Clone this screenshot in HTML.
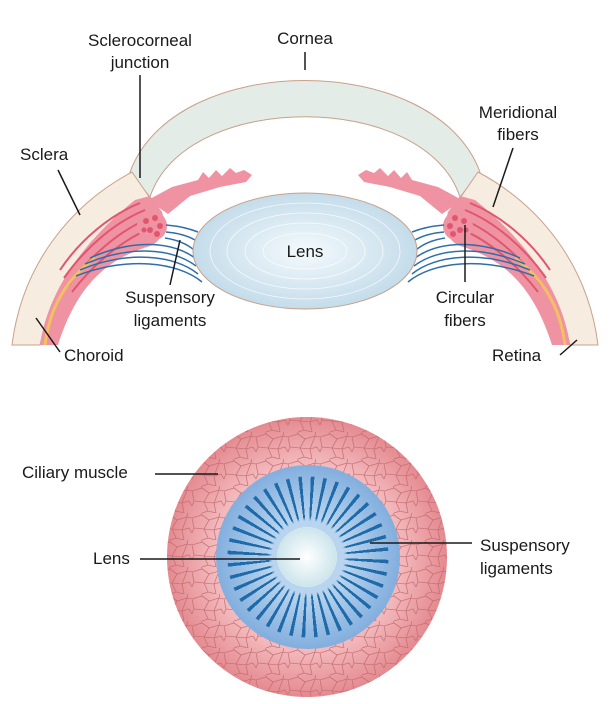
<!DOCTYPE html>
<html><head><meta charset="utf-8"><style>
body{margin:0;background:#fff}
#w{position:relative;width:611px;height:704px;overflow:hidden}
svg{display:block;position:absolute;left:0;top:0}
text{font-family:"Liberation Sans",sans-serif;font-size:17px;fill:#1a1a1a}
.c{position:absolute;border-radius:50%}
</style></head><body><div id="w">
<svg width="611" height="704" viewBox="0 0 611 704">
<defs>
<radialGradient id="lg" cx="0.5" cy="0.5" r="0.5"><stop offset="0" stop-color="#f4fafd"/><stop offset="1" stop-color="#c4dcea"/></radialGradient>
<radialGradient id="pg" cx="0.5" cy="0.5" r="0.5"><stop offset="0.6" stop-color="#f6c3c6"/><stop offset="1" stop-color="#e48a90"/></radialGradient>
<pattern id="cell" width="32" height="27" patternUnits="userSpaceOnUse">
<path d="M0,5 L10,2 L17,7 L27,4 L32,5 M10,2 L9,-2 M27,4 L28,-2 M0,5 L2,15 L0,20 M2,15 L12,16 L17,7 M12,16 L16,25 L10,27 M12,16 L22,17 L27,4 M22,17 L29,15 L32,20 M22,17 L24,27 M16,25 L24,27" fill="none" stroke="#c0676a" stroke-width="0.8"/>
</pattern>
<g id="half">
<path d="M12,345 C22,265 70,205 132,172 L150,198 C95,225 55,280 40,345 Z" fill="#f6ece0" stroke="#c9a08a" stroke-width="1"/>
<path d="M40,345 C48,290 85,240 135,200 L150,196 L162,212 C166,226 164,240 150,246 C110,258 78,282 58,345 Z" fill="#ef92a2"/>
<g stroke="#e0566f" stroke-width="2" fill="none">
<path d="M60,270 C80,240 110,215 140,203"/><path d="M64,278 C85,248 115,222 145,210"/><path d="M68,286 C90,256 120,230 150,218"/><path d="M72,292 C95,262 125,238 152,228"/>
</g>
<path d="M45,345 C50,305 68,278 95,258" stroke="#f2c064" stroke-width="3" fill="none"/>
<path d="M148,200 L172,187 L198,180 L203,172 L209,178 L216,170 L222,176 L230,168 L236,173 L244,170 L252,175 L246,182 L220,187 L190,196 L168,214 Z" fill="#ef92a2"/>
<circle cx="152" cy="226" r="15" fill="#ef92a2"/>
<g fill="#e0566f"><circle cx="146" cy="221" r="3"/><circle cx="155" cy="218" r="3"/><circle cx="160" cy="226" r="3"/><circle cx="150" cy="230" r="3"/><circle cx="157" cy="234" r="3"/><circle cx="144" cy="230" r="2.5"/></g>
<g stroke="#2f6ea8" stroke-width="1.5" fill="none">
<path d="M166,225 C178,226 188,228 198,232"/><path d="M166,232 C178,233 188,236 195,240"/><path d="M165,238 C178,240 187,244 194,250"/>
<path d="M90,258 C130,240 170,240 195,258"/><path d="M85,264 C130,245 172,248 196,266"/><path d="M80,270 C128,250 175,255 198,274"/><path d="M76,276 C128,256 178,262 202,282"/>
</g>
</g>
</defs>
<path d="M130,172 C175,50 435,50 480,172 L460,197 C425,90 185,90 150,197 Z" fill="#e3ece7" stroke="#c9a08a" stroke-width="1"/>
<use href="#half"/>
<use href="#half" transform="translate(610,0) scale(-1,1)"/>
<ellipse cx="305" cy="251" rx="112" ry="58" fill="url(#lg)" stroke="#c9a08a" stroke-width="1"/>
<g fill="none" stroke="#ffffff" stroke-width="0.8" opacity="0.8">
<ellipse cx="305" cy="251" rx="95" ry="48"/><ellipse cx="305" cy="251" rx="78" ry="38"/><ellipse cx="305" cy="251" rx="60" ry="28"/><ellipse cx="305" cy="251" rx="42" ry="18"/></g>
<text x="305" y="257" text-anchor="middle">Lens</text>
<g stroke="#1a1a1a" stroke-width="1.5">
<line x1="140" y1="75" x2="140" y2="178"/><line x1="305" y1="52" x2="305" y2="70"/>
<line x1="58" y1="170" x2="80" y2="215"/><line x1="513" y1="148" x2="493" y2="207"/>
<line x1="180" y1="240" x2="170" y2="285"/><line x1="465" y1="225" x2="465" y2="282"/>
<line x1="60" y1="352" x2="36" y2="318"/><line x1="560" y1="355" x2="577" y2="340"/>
</g>
<text x="140" y="46" text-anchor="middle">Sclerocorneal</text><text x="140" y="68" text-anchor="middle">junction</text>
<text x="305" y="44" text-anchor="middle">Cornea</text>
<text x="20" y="160">Sclera</text>
<text x="518" y="118" text-anchor="middle">Meridional</text><text x="518" y="140" text-anchor="middle">fibers</text>
<text x="170" y="303" text-anchor="middle">Suspensory</text><text x="170" y="326" text-anchor="middle">ligaments</text>
<text x="465" y="303" text-anchor="middle">Circular</text><text x="465" y="326" text-anchor="middle">fibers</text>
<text x="64" y="361">Choroid</text><text x="492" y="361">Retina</text>
<circle cx="307" cy="557" r="140" fill="url(#pg)"/>
<circle cx="307" cy="557" r="140" fill="url(#cell)" opacity="0.8"/>
<text x="22" y="478">Ciliary muscle</text>
<text x="93" y="564">Lens</text>
<text x="480" y="551">Suspensory</text><text x="480" y="574">ligaments</text>
</svg>
<div class="c" style="left:216px;top:465px;width:184px;height:184px;background:radial-gradient(circle,#b8d4ee 30%,#5c93d2 100%)"></div>
<div class="c" style="left:216px;top:465px;width:184px;height:184px;background:repeating-conic-gradient(from 2deg,#1f6aa8 0deg 2.6deg,transparent 2.6deg 9deg);-webkit-mask:radial-gradient(circle,transparent 36px,#000 40px,#000 80px,transparent 81px);mask:radial-gradient(circle,transparent 36px,#000 40px,#000 80px,transparent 81px)"></div>
<div class="c" style="left:278px;top:528px;width:58px;height:58px;background:radial-gradient(circle at 50% 50%,#fff 0%,#b9dbe4 100%);box-shadow:0 0 0 1px #d5eaf0"></div>
<svg width="611" height="704" viewBox="0 0 611 704">
<g stroke="#1a1a1a" stroke-width="1.5">
<line x1="155" y1="474" x2="218" y2="474"/><line x1="140" y1="559" x2="300" y2="559"/><line x1="370" y1="543" x2="472" y2="543"/>
</g>
</svg>
</div></body></html>
